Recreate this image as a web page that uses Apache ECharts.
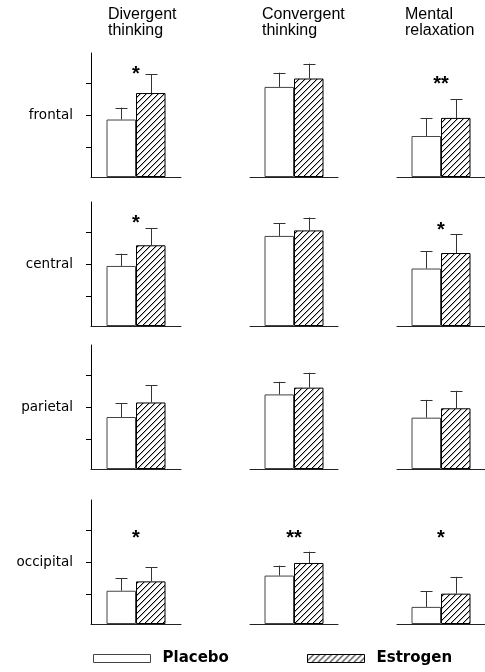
<!DOCTYPE html>
<html>
<head>
<meta charset="utf-8">
<script src="https://cdn.jsdelivr.net/npm/echarts@6/dist/echarts.min.js"></script>
<style>
html,body{margin:0;padding:0;background:#fff;}
#chart{width:485px;height:672px;}
</style>
</head>
<body>
<div id="chart"></div>
<script>
// ---- data (arbitrary units) ----
const columns = ['Divergent\nthinking', 'Convergent\nthinking', 'Mental\nrelaxation'];
const regions = ['frontal', 'central', 'parietal', 'occipital'];
const groups = ['Placebo', 'Estrogen'];
const placeboMean = [
  [1.78, 2.79, 1.27],
  [1.86, 2.79, 1.78],
  [1.61, 2.31, 1.59],
  [1.03, 1.50, 0.53]
];
const placeboErr = [
  [0.37, 0.44, 0.56],
  [0.38, 0.40, 0.54],
  [0.42, 0.39, 0.55],
  [0.39, 0.31, 0.48]
];
const estrogenMean = [
  [2.60, 3.05, 1.83],
  [2.50, 2.96, 2.26],
  [2.06, 2.52, 1.88],
  [1.32, 1.89, 0.94]
];
const estrogenErr = [
  [0.58, 0.46, 0.58],
  [0.52, 0.40, 0.59],
  [0.54, 0.46, 0.54],
  [0.43, 0.35, 0.52]
];
const significance = [
  ['*', '', '**'],
  ['*', '', '*'],
  ['', '', ''],
  ['*', '**', '*']
];
const sigLevel = [
  [3.30, 0, 2.98],
  [3.31, 0, 3.09],
  [0, 0, 0],
  [2.78, 2.78, 2.78]
];
const yMax = 3.84;
const yTicks = [0.91, 1.91, 2.91];

// ---- layout ----
const FONT = '"Liberation Sans", Arial, sans-serif';
const FONT_WIDE = '"DejaVu Sans", "Liberation Sans", sans-serif';
const colLeft = [91, 250, 397];
const colWidth = [90, 88, 88];
const rowTop = [53, 202, 345, 500];
const rowHeight = 124;
const barW = 29.5;

function hatchCanvas() {
  const n = 6;
  const c = document.createElement('canvas');
  c.width = n; c.height = n;
  const g = c.getContext('2d');
  g.fillStyle = '#fff';
  g.fillRect(0, 0, n, n);
  g.fillStyle = '#000';
  for (let i = 0; i < n; i++) g.fillRect(i, n - 1 - i, 1, 1);
  g.fillStyle = 'rgba(0,0,0,0.3)';
  for (let i = 0; i < n; i++) g.fillRect(i, (n - i) % n, 1, 1);
  return c;
}
const hatch = { image: hatchCanvas(), repeat: 'repeat' };

const grid = [], xAxis = [], yAxis = [], series = [];
let idx = 0;
for (let r = 0; r < regions.length; r++) {
  for (let c = 0; c < columns.length; c++) {
    grid.push({ left: colLeft[c], width: colWidth[c], top: rowTop[r], height: rowHeight });
    xAxis.push({
      type: 'category', gridIndex: idx, data: [columns[c]],
      axisLine: { show: true, lineStyle: { color: '#222', width: 1 } },
      axisTick: { show: false }, axisLabel: { show: false }
    });
    const first = c === 0;
    yAxis.push({
      type: 'value', gridIndex: idx, min: 0, max: yMax,
      splitLine: { show: false },
      axisLine: { show: first, lineStyle: { color: '#000', width: 1 } },
      axisTick: { show: first, customValues: yTicks, length: 5, lineStyle: { color: '#000' } },
      axisLabel: {
        show: first, customValues: [yTicks[1]], margin: 18,
        formatter: () => regions[r],
        color: '#000', fontSize: 13.5, fontFamily: FONT_WIDE
      }
    });
    series.push({
      name: groups[0], type: 'bar', xAxisIndex: idx, yAxisIndex: idx,
      barWidth: barW, barGap: '0%',
      itemStyle: { color: '#fff', borderColor: '#444', borderWidth: 1 },
      data: [placeboMean[r][c]], silent: true
    });
    series.push({
      name: groups[1], type: 'bar', xAxisIndex: idx, yAxisIndex: idx,
      barWidth: barW, barGap: '0%',
      itemStyle: { color: hatch, borderColor: '#000', borderWidth: 1 },
      data: [estrogenMean[r][c]], silent: true
    });
    series.push({
      type: 'custom', xAxisIndex: idx, yAxisIndex: idx, z: 5, silent: true,
      data: [
        [0, placeboMean[r][c], placeboErr[r][c], -1],
        [0, estrogenMean[r][c], estrogenErr[r][c], 1]
      ],
      encode: { x: 0, y: 1 },
      renderItem: function (params, api) {
        const m = api.value(1), e = api.value(2), side = api.value(3);
        const p0 = api.coord([0, m]);
        const p1 = api.coord([0, m + e]);
        const x = Math.round(p0[0] + side * barW / 2) + 0.5;
        const cap = 6;
        return {
          type: 'group',
          children: [
            { type: 'line', shape: { x1: x, y1: p0[1], x2: x, y2: p1[1] }, style: { stroke: '#333', lineWidth: 1 } },
            { type: 'line', shape: { x1: x - cap, y1: Math.round(p1[1]) + 0.5, x2: x + cap, y2: Math.round(p1[1]) + 0.5 }, style: { stroke: '#333', lineWidth: 1 } }
          ]
        };
      }
    });
    if (significance[r][c]) {
      series.push({
        type: 'custom', xAxisIndex: idx, yAxisIndex: idx, z: 6, silent: true,
        data: [[0, sigLevel[r][c], significance[r][c]]],
        encode: { x: 0, y: 1 },
        renderItem: function (params, api) {
          const p = api.coord([0, api.value(1)]);
          return {
            type: 'text',
            style: {
              x: p[0], y: p[1] + 4, text: significance[r][c],
              align: 'center', verticalAlign: 'middle',
              font: 'bold 20px ' + FONT, fill: '#000'
            }
          };
        }
      });
    }
    idx++;
  }
}

const titleLeft = [108, 262, 405];
const title = columns.map((t, c) => ({
  text: t, left: titleLeft[c], top: 6, padding: 0,
  textStyle: { fontSize: 16, fontWeight: 'normal', lineHeight: 16.5, color: '#000', fontFamily: FONT }
}));

const legendLeft = [93, 307];
const legend = groups.map((g, i) => ({
  data: [g], left: legendLeft[i], top: 651, padding: 0,
  icon: 'rect', itemWidth: 57, itemHeight: 8, selectedMode: false,
  itemStyle: { borderWidth: 1, borderColor: i === 0 ? '#444' : '#000' },
  textStyle: { fontSize: 15, fontWeight: 'bold', color: '#000', fontFamily: FONT_WIDE, padding: [0, 0, 0, 7] }
}));

const chart = echarts.init(document.getElementById('chart'), null, { renderer: 'canvas' });
chart.setOption({
  animation: false,
  backgroundColor: '#fff',
  title, legend, grid, xAxis, yAxis, series
});
</script>
</body>
</html>
